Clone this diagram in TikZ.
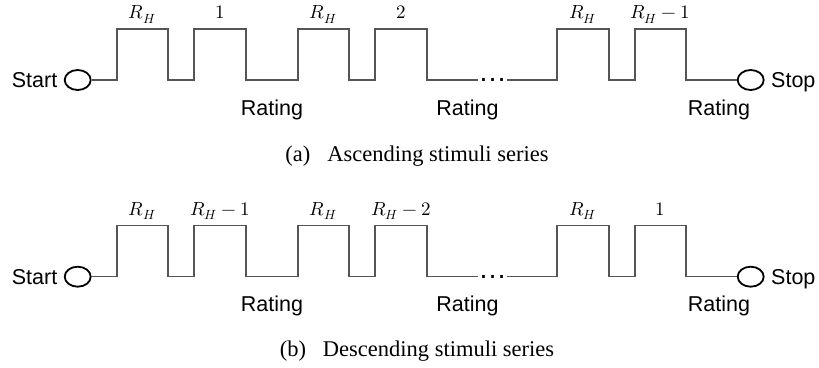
\documentclass[tikz,border=0pt]{standalone}
\usepackage{fontspec}
\usepackage{unicode-math}
\setmainfont{Liberation Serif}
\setsansfont{Liberation Sans}
\setmathfont{Latin Modern Math}
\usetikzlibrary{shapes.geometric}
\definecolor{wavegray}{HTML}{555555}
\tikzset{
  wave/.style={draw=wavegray, line width=1.1pt},
  term/.style={ellipse, draw=black, line width=1.8pt, minimum width=26pt, minimum height=20pt, inner sep=0pt},
  sanslab/.style={font=\sffamily\fontsize{21.5}{24}\selectfont, inner sep=0pt},
  mlab/.style={font=\fontsize{19}{22}\selectfont, anchor=base, inner sep=0pt},
  caplab/.style={font=\fontsize{22.5}{26}\selectfont, anchor=base, inner sep=0pt},
  dotsnode/.style={font=\sffamily\fontsize{28.5}{30}\selectfont, inner xsep=0pt, inner ysep=0pt, text height=2.8pt, text depth=0pt}
}
\newcommand{\stimrow}[7]{%
  \node[term] (#1s) at (77.7,80) {};
  \node[term] (#1e) at (750.7,80) {};
  \node[sanslab, anchor=base east] (#1st) at (57.5,87.5) {Start};
  \node[sanslab, anchor=base west] (#1sp) at (771,87.5) {Stop};
  \node[dotsnode] (#1d) at (492.5,80) {…};
  \draw[wave] (#1s.east) -- (117,80) -- (117,29) -- (168,29) -- (168,80) -- (194,80) -- (194,29) -- (246,29) -- (246,80) -- (298,80) -- (298,29) -- (349,29) -- (349,80) -- (375,80) -- (375,29) -- (427,29) -- (427,80) -- (#1d.west);
  \draw[wave] (#1d.east) -- (557,80) -- (557,29) -- (609,29) -- (609,80) -- (635,80) -- (635,29) -- (686,29) -- (686,80) -- (#1e.west);
  \node[mlab] (#1l1) at (142.5,18.5) {#2};
  \node[mlab] (#1l2) at (220,18.5) {#3};
  \node[mlab] (#1l3) at (323.5,18.5) {#4};
  \node[mlab] (#1l4) at (401,18.5) {#5};
  \node[mlab] (#1l5) at (583,18.5) {#6};
  \node[mlab] (#1l6) at (660,18.5) {#7};
  \node[sanslab, anchor=base] (#1r1) at (272,115) {Rating};
  \node[sanslab, anchor=base] (#1r2) at (467.5,115) {Rating};
  \node[sanslab, anchor=base] (#1r3) at (719,115) {Rating};
}
\begin{document}
\begin{tikzpicture}[x=1pt,y=-1pt]
  \useasboundingbox (0,0) rectangle (819,367);
  \begin{scope}
    \stimrow{a}{$R_H$}{$1$}{$R_H$}{$2$}{$R_H$}{$R_H-1$}
  \end{scope}
  \begin{scope}[yshift=-196.7pt]
    \stimrow{b}{$R_H$}{$R_H-1$}{$R_H$}{$R_H-2$}{$R_H$}{$1$}
  \end{scope}
  \node[caplab] (capa) at (417,161) {(a)\hspace{0.75em}Ascending stimuli series};
  \node[caplab] (capb) at (417,356.7) {(b)\hspace{0.75em}Descending stimuli series};
\end{tikzpicture}
\end{document}
